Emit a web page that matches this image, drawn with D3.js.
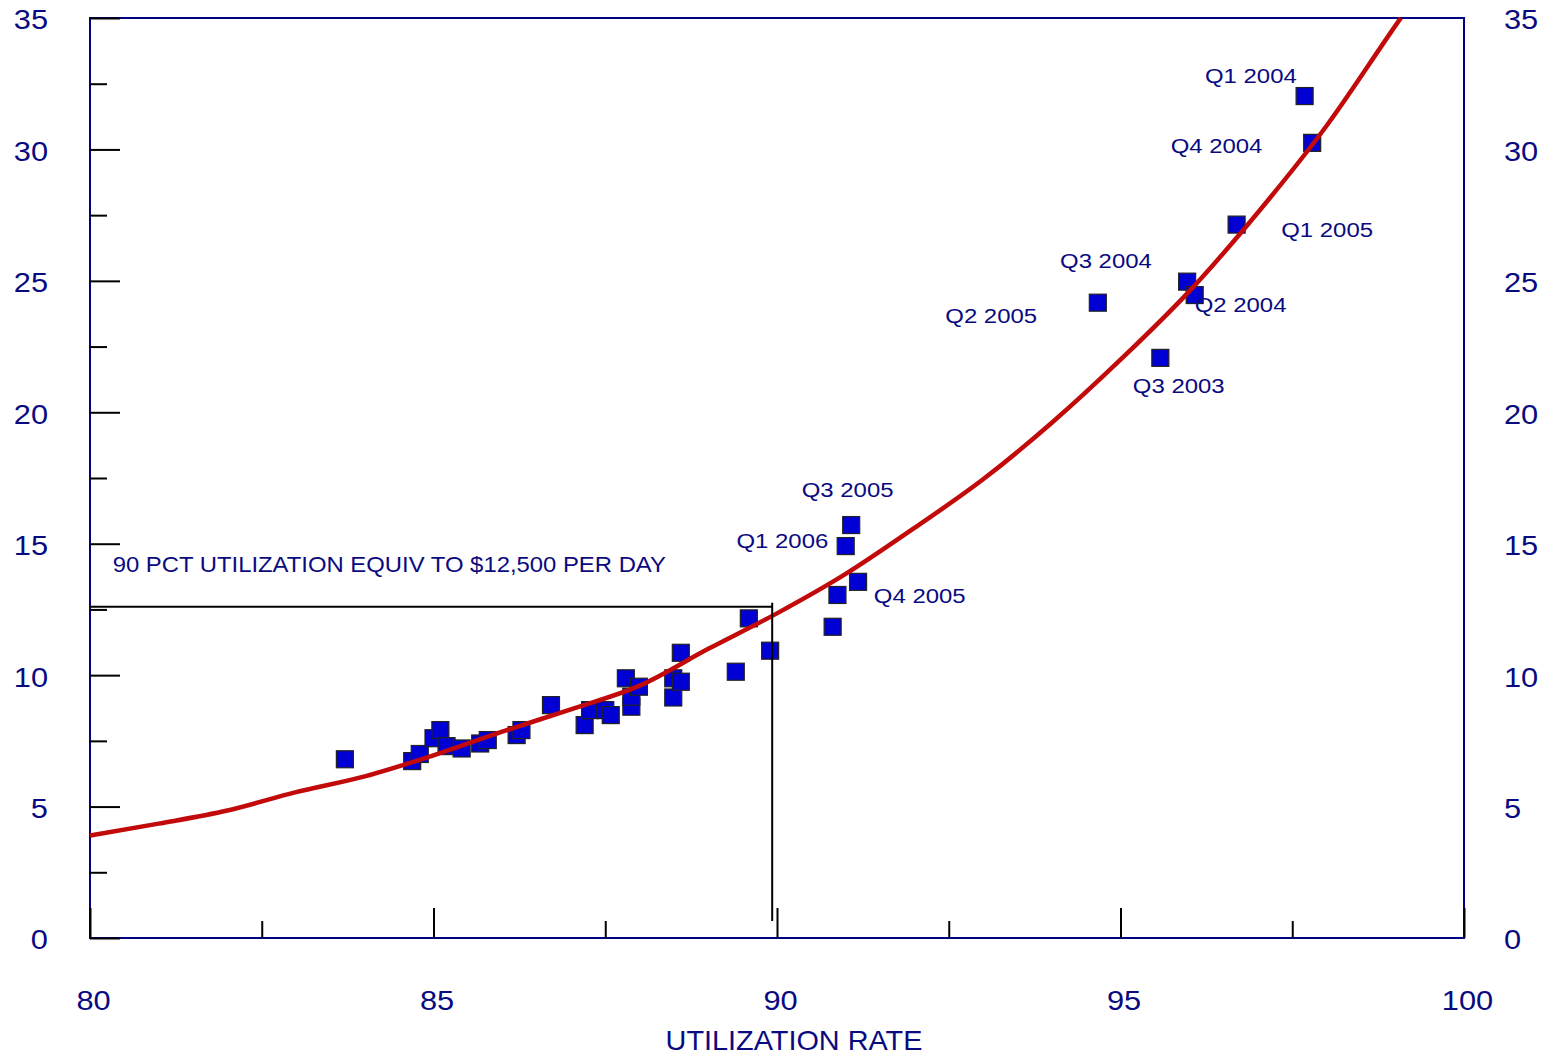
<!DOCTYPE html>
<html>
<head>
<meta charset="utf-8">
<script src="https://cdn.jsdelivr.net/npm/d3@7"></script>
<style>
  body { margin: 0; background: #fff; }
  text { font-family: "Liberation Sans", Arial, sans-serif; }
</style>
</head>
<body>
<svg id="chart" width="1547" height="1058"></svg>
<script>
// fitted curve
var curveUtil = [80, 81, 82, 83, 84, 85, 86, 87, 88, 89, 90, 91, 92, 93, 94, 95, 96, 97, 98, 99, 99.08];
var curveRate = [3.9, 4.35, 4.85, 5.55, 6.15, 6.95, 7.85, 8.7, 9.6, 11.0, 12.35, 13.85, 15.6, 17.45, 19.6, 22.0, 24.6, 27.6, 30.9, 34.7, 35];

// quarterly observations
var pointUtil = [83.71, 84.69, 84.80, 85.00, 85.10, 85.19, 85.41, 85.68, 85.79, 86.21, 86.28, 86.71,
  87.20, 87.28, 87.50, 87.58, 87.80, 87.88, 87.88, 87.99, 88.49, 88.49, 88.60, 88.60, 89.40, 89.59,
  89.90, 90.81, 90.88, 91.18, 91.00, 91.08, 94.67, 95.58, 95.97, 96.08, 96.69, 97.68, 97.79];
var pointRate = [6.80, 6.73, 7.00, 7.60, 7.91, 7.30, 7.21, 7.40, 7.53, 7.72, 7.91, 8.86,
  8.10, 8.67, 8.67, 8.48, 9.88, 8.80, 9.18, 9.56, 9.15, 9.88, 9.75, 10.85, 10.13, 12.16,
  10.93, 11.84, 13.05, 13.55, 14.91, 15.71, 24.17, 22.07, 24.97, 24.46, 27.14, 32.03, 30.25];

// point labels and where they sit (data units)
var labelText = ["Q1 2004", "Q4 2004", "Q1 2005", "Q3 2004", "Q2 2004", "Q2 2005", "Q3 2003", "Q3 2005", "Q1 2006", "Q4 2005"];
var labelUtil = [96.23, 95.73, 97.34, 94.12, 96.08, 92.45, 95.18, 90.36, 89.41, 91.41];
var labelRate = [32.53, 29.86, 26.67, 25.49, 23.83, 23.40, 20.74, 16.79, 14.84, 12.74];

var xMajor = [80, 85, 90, 95, 100];
var xMinor = [82.5, 87.5, 92.5, 97.5];
var yMajor = [0, 5, 10, 15, 20, 25, 30, 35];
var yMinor = [2.5, 7.5, 12.5, 17.5, 22.5, 27.5, 32.5];

var refUtil = 89.93, refRate = 12.6;
var noteText = "90 PCT UTILIZATION EQUIV TO $12,500 PER DAY";

var navy = "#0a0a80";
var svg = d3.select("#chart");

var x = d3.scaleLinear().domain([80, 100]).range([90, 1464]);
var y = d3.scaleLinear().domain([0, 35]).range([938, 18]);

// frame
svg.append("rect")
  .attr("x", x(80)).attr("y", y(35))
  .attr("width", x(100) - x(80)).attr("height", y(0) - y(35))
  .attr("fill", "none").attr("stroke", "#000080").attr("stroke-width", 2);

// points
svg.append("g").selectAll("rect")
  .data(pointUtil)
  .enter().append("rect")
  .attr("x", function(d) { return x(d) - 8.5; })
  .attr("y", function(d, i) { return y(pointRate[i]) - 8.5; })
  .attr("width", 17).attr("height", 17)
  .attr("fill", "#0000d4").attr("stroke", "#222").attr("stroke-width", 1.2);

// curve
var line = d3.line()
  .x(function(d) { return x(d); })
  .y(function(d, i) { return y(curveRate[i]); })
  .curve(d3.curveMonotoneX);
svg.append("path")
  .attr("d", line(curveUtil))
  .attr("fill", "none").attr("stroke", "#c20a0a").attr("stroke-width", 4.5)
  .attr("stroke-linejoin", "round");

// reference lines
svg.append("line")
  .attr("x1", x(80)).attr("x2", x(refUtil))
  .attr("y1", y(refRate)).attr("y2", y(refRate))
  .attr("stroke", "#000").attr("stroke-width", 2);
svg.append("line")
  .attr("x1", x(refUtil)).attr("x2", x(refUtil))
  .attr("y1", y(12.75)).attr("y2", y(0.65))
  .attr("stroke", "#000").attr("stroke-width", 2);

// tick marks, pointing inward
function ticks(axis, values, size, transform) {
  var g = svg.append("g").attr("transform", transform)
    .call(axis.tickValues(values).tickSize(-size).tickFormat(""));
  g.select(".domain").remove();
  g.selectAll("line").attr("stroke", "#000").attr("stroke-width", 2);
}
ticks(d3.axisBottom(x), xMajor, 30, "translate(0," + y(0) + ")");
ticks(d3.axisBottom(x), xMinor, 17, "translate(0," + y(0) + ")");
ticks(d3.axisLeft(y), yMajor, 30, "translate(" + x(80) + ",0)");
ticks(d3.axisLeft(y), yMinor, 17, "translate(" + x(80) + ",0)");

// tick labels
function labels(axis, values, pad, transform, origin, dx, dy) {
  var g = svg.append("g").attr("transform", transform)
    .call(axis.tickValues(values).tickSize(0).tickPadding(pad));
  g.select(".domain").remove();
  g.selectAll("text")
    .attr("fill", navy).attr("font-size", 28)
    .attr("font-family", "Liberation Sans, Arial, sans-serif")
    .attr("dx", dx)
    .attr("transform", "translate(0," + dy + ")")
    .style("transform-box", "fill-box").style("transform-origin", origin)
    .style("transform", "scaleX(1.1)");
}
labels(d3.axisLeft(y), yMajor, 42, "translate(" + x(80) + ",2)", "right center", 0, 0);
labels(d3.axisRight(y), yMajor, 40, "translate(" + x(100) + ",2)", "left center", 0, 0);
labels(d3.axisBottom(x), xMajor, 52, "translate(0," + y(0) + ")", "center", 3, 0);

// axis title
svg.append("text")
  .attr("x", 794).attr("y", 1050)
  .attr("text-anchor", "middle").attr("font-size", 28).attr("fill", navy)
  .style("transform-box", "fill-box").style("transform-origin", "center")
  .style("transform", "scaleX(1.03)")
  .text("UTILIZATION RATE");

// note
svg.append("text")
  .attr("x", x(80.33)).attr("y", y(13.92))
  .attr("font-size", 21.5).attr("fill", navy)
  .style("transform-box", "fill-box").style("transform-origin", "left center")
  .style("transform", "scaleX(1.11)")
  .text(noteText);

// point labels
svg.append("g").selectAll("text")
  .data(labelText)
  .enter().append("text")
  .attr("x", function(d, i) { return x(labelUtil[i]); })
  .attr("y", function(d, i) { return y(labelRate[i]); })
  .attr("font-size", 21).attr("fill", navy)
  .style("transform-box", "fill-box").style("transform-origin", "left center")
  .style("transform", "scaleX(1.14)")
  .text(function(d) { return d; });
</script>
</body>
</html>
